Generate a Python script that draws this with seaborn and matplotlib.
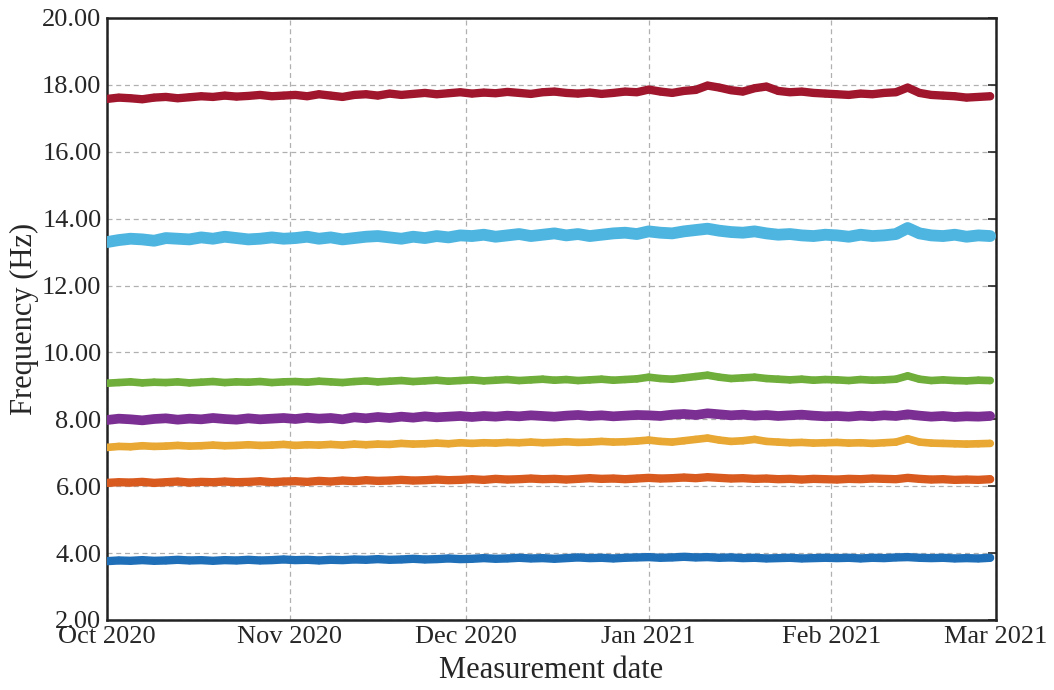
import numpy as np
import pandas as pd
import matplotlib
matplotlib.use("Agg")
import matplotlib.pyplot as plt
import matplotlib.dates as mdates
import seaborn as sns

# Modal frequencies (Hz), one reading every two days from 1 Oct 2020
dates = pd.date_range("2020-10-01", periods=76, freq="2D")

mode7 = [17.58, 17.62, 17.60, 17.57, 17.62, 17.64, 17.60, 17.63, 17.66, 17.64, 17.68, 17.65, 17.67, 17.70, 17.66, 17.68,
         17.70, 17.66, 17.72, 17.68, 17.64, 17.70, 17.72, 17.68, 17.74, 17.70, 17.73, 17.76, 17.72, 17.75, 17.78,
         17.74, 17.77, 17.75, 17.79, 17.76, 17.73, 17.78, 17.80, 17.76, 17.74, 17.77, 17.73, 17.76, 17.80, 17.78,
         17.86, 17.80, 17.76, 17.82, 17.85, 17.98, 17.92, 17.84, 17.80, 17.90, 17.95, 17.82, 17.78, 17.80, 17.76, 17.74,
         17.72, 17.70, 17.74, 17.72, 17.76, 17.78, 17.92, 17.76, 17.70, 17.68, 17.66, 17.62, 17.64, 17.66]
mode6 = [13.30, 13.36, 13.40, 13.38, 13.34, 13.42, 13.40, 13.38, 13.44, 13.40, 13.46, 13.42, 13.38, 13.40, 13.44, 13.40,
         13.42, 13.46, 13.40, 13.44, 13.38, 13.42, 13.46, 13.48, 13.44, 13.40, 13.46, 13.42, 13.48, 13.44, 13.50,
         13.48, 13.52, 13.46, 13.50, 13.54, 13.48, 13.52, 13.56, 13.50, 13.54, 13.48, 13.52, 13.56, 13.58, 13.54,
         13.62, 13.58, 13.56, 13.62, 13.66, 13.70, 13.64, 13.60, 13.58, 13.62, 13.56, 13.52, 13.54, 13.50, 13.48, 13.52,
         13.50, 13.46, 13.52, 13.48, 13.50, 13.54, 13.72, 13.56, 13.50, 13.48, 13.52, 13.46, 13.50, 13.48]
mode5 = [9.08, 9.10, 9.12, 9.09, 9.11, 9.10, 9.12, 9.09, 9.11, 9.13, 9.10, 9.12, 9.11, 9.13, 9.10, 9.12,
         9.13, 9.11, 9.14, 9.12, 9.10, 9.13, 9.15, 9.12, 9.14, 9.16, 9.13, 9.15, 9.17, 9.14, 9.16,
         9.18, 9.15, 9.17, 9.19, 9.16, 9.18, 9.20, 9.17, 9.19, 9.16, 9.18, 9.20, 9.17, 9.19, 9.21,
         9.26, 9.22, 9.20, 9.24, 9.28, 9.32, 9.26, 9.22, 9.24, 9.26, 9.22, 9.20, 9.18, 9.20, 9.17, 9.19,
         9.18, 9.16, 9.19, 9.17, 9.18, 9.20, 9.30, 9.20, 9.16, 9.18, 9.16, 9.15, 9.17, 9.16]
mode4 = [7.98, 8.02, 8.00, 7.97, 8.01, 8.03, 7.99, 8.02, 8.00, 8.04, 8.01, 7.99, 8.03, 8.00, 8.02, 8.04,
         8.01, 8.05, 8.02, 8.04, 8.00, 8.06, 8.03, 8.07, 8.04, 8.08, 8.05, 8.09, 8.06, 8.08, 8.10,
         8.07, 8.10, 8.08, 8.11, 8.09, 8.12, 8.10, 8.08, 8.11, 8.13, 8.10, 8.12, 8.09, 8.11, 8.13,
         8.12, 8.10, 8.14, 8.16, 8.13, 8.18, 8.15, 8.12, 8.14, 8.11, 8.13, 8.10, 8.12, 8.14, 8.11, 8.09,
         8.10, 8.08, 8.11, 8.09, 8.12, 8.10, 8.15, 8.11, 8.08, 8.10, 8.07, 8.09, 8.08, 8.10]
mode3 = [7.16, 7.19, 7.18, 7.21, 7.19, 7.20, 7.22, 7.20, 7.21, 7.23, 7.21, 7.22, 7.24, 7.22, 7.23, 7.25,
         7.22, 7.24, 7.23, 7.25, 7.23, 7.26, 7.24, 7.26, 7.25, 7.28, 7.26, 7.27, 7.29, 7.27, 7.30,
         7.28, 7.30, 7.29, 7.31, 7.30, 7.32, 7.30, 7.31, 7.33, 7.31, 7.32, 7.34, 7.32, 7.33, 7.35,
         7.38, 7.34, 7.32, 7.36, 7.40, 7.44, 7.38, 7.34, 7.36, 7.40, 7.34, 7.32, 7.30, 7.31, 7.29, 7.30,
         7.31, 7.29, 7.30, 7.28, 7.30, 7.32, 7.42, 7.32, 7.29, 7.28, 7.27, 7.26, 7.27, 7.28]
mode2 = [6.10, 6.12, 6.11, 6.13, 6.10, 6.12, 6.14, 6.11, 6.13, 6.12, 6.14, 6.12, 6.13, 6.15, 6.12, 6.14,
         6.15, 6.13, 6.16, 6.14, 6.17, 6.15, 6.18, 6.16, 6.17, 6.19, 6.17, 6.18, 6.20, 6.18, 6.19,
         6.21, 6.19, 6.22, 6.20, 6.21, 6.23, 6.21, 6.22, 6.20, 6.22, 6.24, 6.22, 6.23, 6.21, 6.23,
         6.25, 6.23, 6.24, 6.26, 6.24, 6.27, 6.25, 6.23, 6.24, 6.22, 6.23, 6.21, 6.22, 6.20, 6.22, 6.21,
         6.20, 6.22, 6.21, 6.23, 6.22, 6.21, 6.25, 6.22, 6.20, 6.21, 6.19, 6.20, 6.19, 6.21]
mode1 = [3.76, 3.78, 3.77, 3.79, 3.77, 3.78, 3.80, 3.78, 3.79, 3.77, 3.79, 3.78, 3.80, 3.78, 3.79, 3.81,
         3.79, 3.80, 3.78, 3.80, 3.79, 3.81, 3.80, 3.82, 3.80, 3.81, 3.83, 3.81, 3.82, 3.84, 3.82,
         3.83, 3.85, 3.83, 3.84, 3.86, 3.84, 3.85, 3.83, 3.85, 3.87, 3.85, 3.86, 3.84, 3.86, 3.87,
         3.88, 3.86, 3.87, 3.89, 3.87, 3.88, 3.86, 3.87, 3.85, 3.86, 3.84, 3.85, 3.86, 3.84, 3.85, 3.86,
         3.85, 3.86, 3.84, 3.86, 3.85, 3.87, 3.88, 3.86, 3.85, 3.86, 3.84, 3.85, 3.84, 3.86]

series = [mode1, mode2, mode3, mode4, mode5, mode6, mode7]
colors = ["#1f6fb8", "#d95a1e", "#e8a833", "#7b2f92", "#6fae3a", "#4db5e0", "#a0172d"]
widths = [6.0, 6.0, 5.5, 7.0, 5.5, 8.5, 6.0]
xticks = ["2020-10-01", "2020-11-01", "2020-12-01", "2021-01-01", "2021-02-01", "2021-03-01"]
yticks = [2, 4, 6, 8, 10, 12, 14, 16, 18, 20]

sns.set_theme(style="white")
plt.rcParams["font.family"] = ["Liberation Serif", "DejaVu Serif"]

fig = plt.figure(figsize=(10.54, 6.90), dpi=100)
ax = fig.add_axes([107 / 1054, 1 - 620 / 690, (996 - 107) / 1054, (620 - 18) / 690])

for vals, col, w in zip(series, colors, widths):
    df = pd.DataFrame({"date": dates, "freq": vals})
    sns.lineplot(data=df, x="date", y="freq", color=col, lw=w, ax=ax, zorder=3)
    sns.scatterplot(data=df, x="date", y="freq", color=col, s=w * 5, edgecolor="none", ax=ax, zorder=4)

ax.set_xlim(pd.Timestamp(xticks[0]), pd.Timestamp(xticks[-1]))
ax.set_ylim(yticks[0], yticks[-1])
ax.set_xticks([pd.Timestamp(t) for t in xticks])
ax.xaxis.set_major_formatter(mdates.DateFormatter("%b %Y"))
ax.set_yticks(yticks)
ax.set_yticklabels([f"{v:.2f}" for v in yticks])

ax.grid(True, color="#b0b0b0", linestyle=(0, (4, 3)), lw=0.9)
ax.set_axisbelow(True)
ax.tick_params(direction="in", length=6, width=1.2, labelsize=19, top=False, right=True, pad=4)
for s in ax.spines.values():
    s.set_linewidth(1.8)
    s.set_color("#222222")

ax.set_xlabel("Measurement date", fontsize=22, labelpad=6)
ax.set_ylabel("Frequency (Hz)", fontsize=22, labelpad=2)

fig.savefig("out.png", dpi=100)
